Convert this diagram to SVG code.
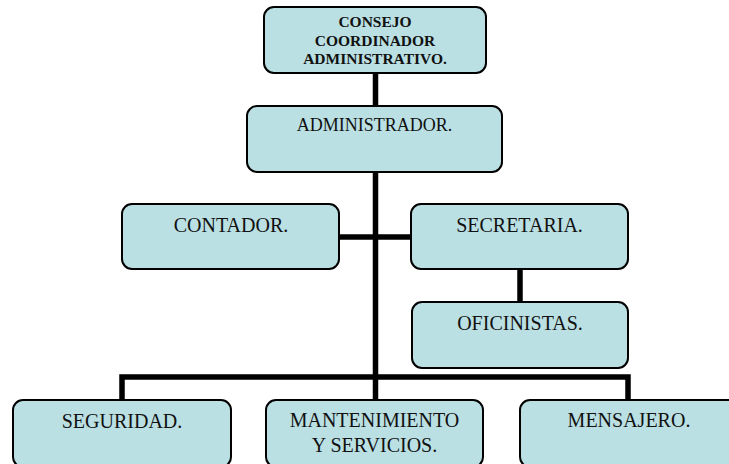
<svg xmlns="http://www.w3.org/2000/svg" width="729" height="464" viewBox="0 0 729 464">
<style>
.box{fill:#bae0e3;stroke:#000;stroke-width:2}
.t{font-family:'Liberation Serif','DejaVu Serif',serif;font-size:20px;fill:#111;text-anchor:middle}
.ta{font-size:18px}
.tb{font-family:'Liberation Serif','DejaVu Serif',serif;font-size:15.5px;font-weight:bold;fill:#111;text-anchor:middle}
.c{stroke:#000;fill:none;stroke-width:5.5;stroke-linejoin:miter;stroke-linecap:butt}
</style>
<rect width="729" height="464" fill="#fff"/>
<g id="connectors">
<path class="c" d="M375.5 72V377"/>
<path class="c" d="M339 237H411"/>
<path class="c" d="M520 269V302"/>
<path class="c" d="M122 400V377H628V400"/>
<path class="c" d="M375.5 377V400"/>
</g>
<g id="consejo">
<rect class="box" x="264" y="7" width="222" height="66" rx="10"/>
<text class="tb" x="375" y="27">CONSEJO</text>
<text class="tb" x="375" y="46">COORDINADOR</text>
<text class="tb" x="375" y="64">ADMINISTRATIVO.</text>
</g>
<g id="administrador">
<rect class="box" x="247" y="106" width="255" height="66" rx="10"/>
<text class="t ta" x="374.5" y="131">ADMINISTRADOR.</text>
</g>
<g id="contador">
<rect class="box" x="122" y="204" width="217" height="65" rx="10"/>
<text class="t" x="231" y="232">CONTADOR.</text>
</g>
<g id="secretaria">
<rect class="box" x="411" y="204" width="217" height="65" rx="10"/>
<text class="t" x="519.5" y="232">SECRETARIA.</text>
</g>
<g id="oficinistas">
<rect class="box" x="412" y="302" width="216" height="66" rx="10"/>
<text class="t" x="520" y="330">OFICINISTAS.</text>
</g>
<g id="seguridad">
<rect class="box" x="13" y="400" width="218" height="67" rx="10"/>
<text class="t" x="122" y="428">SEGURIDAD.</text>
</g>
<g id="mantenimiento">
<rect class="box" x="266" y="400" width="217" height="67" rx="10"/>
<text class="t" x="374.5" y="427">MANTENIMIENTO</text>
<text class="t" x="374.5" y="452">Y SERVICIOS.</text>
</g>
<g id="mensajero">
<rect class="box" x="520" y="400" width="218" height="67" rx="10"/>
<text class="t" x="629" y="427">MENSAJERO.</text>
</g>
</svg>
